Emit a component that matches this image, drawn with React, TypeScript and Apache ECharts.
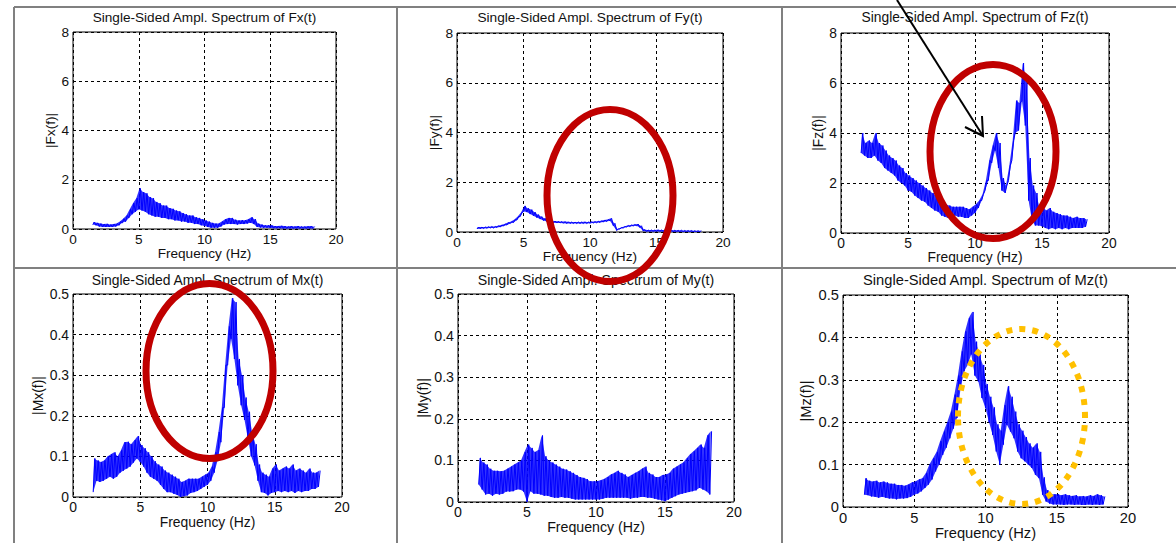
import React, { useEffect, useRef } from "react";
import * as echarts from "echarts";

// Frequency samples (Hz)
const FREQ = [
  1.5, 1.75,
  2, 2.25, 2.5, 2.75, 3, 3.25, 3.5, 3.75, 4, 4.25, 4.5, 4.75, 5, 5.25, 5.5, 5.75,
  6, 6.25, 6.5, 6.75, 7, 7.25, 7.5, 7.75, 8, 8.25, 8.5, 8.75, 9, 9.25, 9.5, 9.75,
  10, 10.25, 10.5, 10.75, 11, 11.25, 11.5, 11.75, 12, 12.25, 12.5, 12.75, 13, 13.25, 13.5, 13.75,
  14, 14.25, 14.5, 14.75, 15, 15.25, 15.5, 15.75, 16, 16.25, 16.5, 16.75, 17, 17.25, 17.5, 17.75,
  18, 18.25,
];

const X_TICKS = [0, 5, 10, 15, 20];
const NAMES = ["Fx", "Fy", "Fz", "Mx", "My", "Mz"];

// Upper / lower edges of the noisy spectra
const FX_HI = [0.28, 0.25,
  0.22, 0.2, 0.21, 0.18, 0.2, 0.22, 0.3, 0.42, 0.55, 0.8, 1.05, 1.25, 1.65, 1.5, 1.45, 1.3,
  1.25, 1.1, 1.05, 0.95, 0.95, 0.85, 0.82, 0.75, 0.72, 0.65, 0.6, 0.55, 0.55, 0.48, 0.45, 0.4,
  0.35, 0.3, 0.25, 0.22, 0.22, 0.3, 0.4, 0.45, 0.45, 0.38, 0.35, 0.36, 0.36, 0.4, 0.48, 0.4,
  0.22, 0.18, 0.15, 0.15, 0.15, 0.12, 0.12, 0.13, 0.12, 0.1, 0.12, 0.1, 0.12, 0.1, 0.1, 0.11,
  0.12, 0.1];
const FX_LO = [0.18, 0.15,
  0.1, 0.08, 0.08, 0.08, 0.08, 0.1, 0.15, 0.25, 0.3, 0.45, 0.6, 0.7, 0.8, 0.75, 0.7, 0.6,
  0.55, 0.5, 0.5, 0.45, 0.45, 0.4, 0.4, 0.35, 0.35, 0.3, 0.3, 0.25, 0.25, 0.2, 0.2, 0.15,
  0.12, 0.08, 0.05, 0.05, 0.05, 0.1, 0.18, 0.2, 0.2, 0.2, 0.18, 0.2, 0.2, 0.22, 0.25, 0.2,
  0.08, 0.06, 0.05, 0.05, 0.04, 0.03, 0.03, 0.03, 0.02, 0.02, 0.02, 0.02, 0.02, 0.02, 0.02, 0.02,
  0.02, 0.02];

const FY_HI = [0.2, 0.2,
  0.2, 0.21, 0.22, 0.22, 0.25, 0.28, 0.32, 0.38, 0.42, 0.5, 0.62, 0.78, 1.05, 0.95, 0.9, 0.8,
  0.7, 0.62, 0.55, 0.5, 0.46, 0.44, 0.43, 0.42, 0.42, 0.41, 0.4, 0.4, 0.4, 0.4, 0.41, 0.4,
  0.41, 0.42, 0.43, 0.45, 0.48, 0.5, 0.55, 0.35, 0.12, 0.18, 0.22, 0.26, 0.28, 0.3, 0.32, 0.25,
  0.1, 0.08, 0.08, 0.08, 0.09, 0.08, 0.08, 0.08, 0.08, 0.07, 0.07, 0.07, 0.06, 0.06, 0.06, 0.05,
  0.05, 0.05];
const FY_LO = [0.12, 0.13,
  0.14, 0.15, 0.16, 0.16, 0.18, 0.2, 0.24, 0.28, 0.34, 0.38, 0.48, 0.62, 0.82, 0.8, 0.72, 0.65,
  0.58, 0.52, 0.46, 0.42, 0.38, 0.37, 0.36, 0.36, 0.35, 0.34, 0.34, 0.34, 0.34, 0.34, 0.34, 0.34,
  0.35, 0.36, 0.37, 0.38, 0.4, 0.42, 0.45, 0.25, 0.06, 0.12, 0.16, 0.2, 0.22, 0.24, 0.25, 0.18,
  0.04, 0.02, 0.02, 0.02, 0.02, 0.02, 0.02, 0.02, 0.02, 0.01, 0.01, 0.01, 0.01, 0.01, 0.01, 0.01,
  0.01, 0.01];

const FZ_HI = [4.0, 3.6,
  3.7, 3.6, 4.0, 3.6, 3.5, 3.3, 3.1, 3.0, 2.9, 2.7, 2.6, 2.4, 2.3, 2.2, 2.1, 2.0,
  1.9, 1.8, 1.7, 1.6, 1.5, 1.4, 1.25, 1.15, 1.1, 1.05, 1.05, 1.05, 1.05, 1.0, 0.95, 1.05,
  1.15, 1.3, 1.55, 2.1, 2.9, 3.5, 4.0, 3.6, 2.2, 1.9, 2.7, 3.7, 5.3, 5.2, 6.8, 6.1,
  3.0, 1.9, 1.6, 1.0, 1.05, 0.9, 1.0, 0.85, 0.8, 0.75, 0.7, 0.7, 0.65, 0.6, 0.65, 0.6,
  0.6, 0.55];
const FZ_LO = [3.2, 3.1,
  3.0, 3.0, 3.1, 2.9, 2.8, 2.6, 2.5, 2.4, 2.3, 2.1, 2.0, 1.9, 1.7, 1.65, 1.5, 1.4,
  1.3, 1.25, 1.1, 1.0, 0.9, 0.85, 0.7, 0.65, 0.6, 0.65, 0.7, 0.65, 0.65, 0.6, 0.6, 0.7,
  0.8, 1.0, 1.3, 1.7, 2.1, 2.8, 3.3, 2.6, 1.7, 1.6, 2.1, 2.9, 4.0, 4.1, 5.3, 4.3,
  1.3, 0.5, 0.3, 0.3, 0.27, 0.2, 0.15, 0.2, 0.15, 0.2, 0.15, 0.2, 0.15, 0.2, 0.2, 0.2,
  0.2, 0.25];

const MX_HI = [0.095, 0.09,
  0.086, 0.09, 0.1, 0.105, 0.11, 0.1, 0.115, 0.135, 0.136, 0.13, 0.14, 0.15, 0.128, 0.12, 0.11, 0.1,
  0.088, 0.08, 0.075, 0.065, 0.06, 0.055, 0.05, 0.045, 0.037, 0.04, 0.045, 0.045, 0.045, 0.045, 0.05, 0.055,
  0.06, 0.075, 0.11, 0.16, 0.22, 0.325, 0.42, 0.49, 0.48, 0.34, 0.3, 0.245, 0.21, 0.16, 0.13, 0.08,
  0.06, 0.055, 0.05, 0.07, 0.08, 0.065, 0.07, 0.075, 0.07, 0.08, 0.065, 0.07, 0.065, 0.06, 0.07, 0.06,
  0.06, 0.065];
const MX_LO = [0.012, 0.04,
  0.037, 0.04, 0.045, 0.05, 0.045, 0.05, 0.06, 0.065, 0.07, 0.075, 0.085, 0.095, 0.086, 0.075, 0.06, 0.05,
  0.045, 0.04, 0.03, 0.02, 0.012, 0.012, 0.008, 0.005, 0, 0.002, 0.004, 0.01, 0.012, 0.015, 0.02, 0.025,
  0.03, 0.04, 0.06, 0.09, 0.135, 0.22, 0.325, 0.39, 0.34, 0.275, 0.226, 0.19, 0.144, 0.1, 0.078, 0.04,
  0.012, 0.01, 0.004, 0.01, 0.012, 0.015, 0.012, 0.015, 0.012, 0.015, 0.01, 0.015, 0.012, 0.015, 0.015, 0.02,
  0.02, 0.025];

const MY_HI = [0.106, 0.095,
  0.09, 0.08, 0.075, 0.075, 0.074, 0.075, 0.08, 0.085, 0.09, 0.095, 0.1, 0.12, 0.138, 0.13, 0.12, 0.125,
  0.16, 0.11, 0.1, 0.095, 0.09, 0.085, 0.08, 0.078, 0.074, 0.07, 0.065, 0.06, 0.058, 0.055, 0.05, 0.05,
  0.05, 0.052, 0.055, 0.06, 0.066, 0.07, 0.075, 0.07, 0.066, 0.06, 0.065, 0.07, 0.074, 0.08, 0.085, 0.07,
  0.066, 0.06, 0.06, 0.065, 0.066, 0.07, 0.08, 0.085, 0.09, 0.095, 0.105, 0.115, 0.122, 0.13, 0.138, 0.13,
  0.16, 0.17];
const MY_LO = [0.042, 0.03,
  0.018, 0.02, 0.015, 0.02, 0.018, 0.02, 0.025, 0.025, 0.026, 0.03, 0.03, 0.025, 0.0, 0.026, 0.02, 0.02,
  0.018, 0.015, 0.015, 0.012, 0.01, 0.01, 0.012, 0.01, 0.01, 0.008, 0.006, 0.006, 0.006, 0.006, 0.006, 0.006,
  0.006, 0.006, 0.008, 0.01, 0.01, 0.01, 0.01, 0.01, 0.01, 0.01, 0.008, 0.01, 0.01, 0.012, 0.012, 0.01,
  0.01, 0.008, 0.006, 0.004, 0.002, 0.006, 0.01, 0.014, 0.018, 0.02, 0.022, 0.024, 0.026, 0.028, 0.034, 0.03,
  0.026, 0.018];

const MZ_HI = [0.068, 0.062,
  0.06, 0.062, 0.058, 0.06, 0.058, 0.055, 0.055, 0.052, 0.052, 0.05, 0.053, 0.058, 0.06, 0.065, 0.068, 0.08,
  0.1, 0.115, 0.13, 0.155, 0.178, 0.2, 0.225, 0.265, 0.31, 0.367, 0.414, 0.445, 0.46, 0.39, 0.36, 0.335,
  0.29, 0.26, 0.235, 0.195, 0.18, 0.24, 0.285, 0.26, 0.225, 0.195, 0.18, 0.165, 0.15, 0.14, 0.15, 0.13,
  0.07, 0.04, 0.03, 0.03, 0.03, 0.028, 0.03, 0.028, 0.026, 0.028, 0.025, 0.026, 0.025, 0.028, 0.026, 0.03,
  0.028, 0.025];
const MZ_LO = [0.029, 0.028,
  0.025, 0.024, 0.022, 0.024, 0.022, 0.02, 0.02, 0.018, 0.02, 0.02, 0.021, 0.024, 0.029, 0.032, 0.037, 0.045,
  0.053, 0.065, 0.084, 0.1, 0.123, 0.14, 0.162, 0.185, 0.21, 0.28, 0.32, 0.335, 0.36, 0.31, 0.296, 0.257,
  0.233, 0.2, 0.17, 0.131, 0.1, 0.147, 0.194, 0.178, 0.162, 0.131, 0.115, 0.108, 0.1, 0.092, 0.076, 0.068,
  0.029, 0.013, 0.008, 0.006, 0.006, 0.006, 0.005, 0.006, 0.006, 0.005, 0.006, 0.005, 0.005, 0.006, 0.005, 0.006,
  0.005, 0.006];

const HI = [FX_HI, FY_HI, FZ_HI, MX_HI, MY_HI, MZ_HI];
const LO = [FX_LO, FY_LO, FZ_LO, MX_LO, MY_LO, MZ_LO];
const Y_MAX = [8, 8, 8, 0.5, 0.5, 0.5];
const Y_STEP = [2, 2, 2, 0.1, 0.1, 0.1];

// Layout (pixels)
const LAYOUT = [
  { left: 73, top: 32, width: 263, height: 197, fs: 13.6, titleY: 17, yGap: 14, xGap: 16 },
  { left: 457, top: 33, width: 266, height: 199, fs: 13.7, titleY: 17, yGap: 15, xGap: 15 },
  { left: 841, top: 33, width: 268, height: 200, fs: 13.8, titleY: 17, yGap: 16, xGap: 15 },
  { left: 73, top: 294, width: 269, height: 203, fs: 13.9, titleY: 280, yGap: 28, xGap: 16 },
  { left: 458, top: 294, width: 276, height: 208, fs: 14.2, titleY: 280, yGap: 28, xGap: 18 },
  { left: 843, top: 295, width: 285, height: 212, fs: 14.7, titleY: 280, yGap: 30, xGap: 16 },
];

const FONT = "'Liberation Sans', Arial, sans-serif";
const TXT = "#111";
const BLUE = "#0000ff";

export default function App() {
  const ref = useRef<HTMLDivElement>(null);

  useEffect(() => {
    if (!ref.current) return;
    const chart = echarts.init(ref.current, undefined, { renderer: "svg" });

    const grids = LAYOUT.map((l) => ({
      left: l.left,
      top: l.top,
      width: l.width,
      height: l.height,
      show: true,
      borderColor: "#000",
      borderWidth: 1,
      backgroundColor: "transparent",
    }));

    const split = { show: true, lineStyle: { type: [3, 3], color: "#000", width: 1 } };

    const xAxes = LAYOUT.map((l, i) => ({
      type: "value",
      gridIndex: i,
      min: X_TICKS[0],
      max: X_TICKS[X_TICKS.length - 1],
      interval: X_TICKS[1] - X_TICKS[0],
      name: "Frequency (Hz)",
      nameLocation: "middle",
      nameGap: l.xGap,
      nameTextStyle: { fontSize: l.fs, color: TXT, fontFamily: FONT },
      axisLine: { show: false },
      axisTick: { show: false },
      axisLabel: { margin: 3, fontSize: l.fs, color: TXT, fontFamily: FONT },
      splitLine: split,
    }));

    const yAxes = LAYOUT.map((l, i) => ({
      type: "value",
      gridIndex: i,
      min: 0,
      max: Y_MAX[i],
      interval: Y_STEP[i],
      name: `|${NAMES[i]}(f)|`,
      nameLocation: "middle",
      nameGap: l.yGap,
      nameTextStyle: { fontSize: l.fs, color: TXT, fontFamily: FONT },
      axisLine: { show: false },
      axisTick: { show: false },
      axisLabel: { margin: 4, fontSize: l.fs, color: TXT, fontFamily: FONT },
      splitLine: split,
    }));

    const series: any[] = [];
    LAYOUT.forEach((_, i) => {
      const hi = HI[i];
      const lo = LO[i];
      // noise band: filled polygon between lower and upper edges
      series.push({
        type: "custom",
        xAxisIndex: i,
        yAxisIndex: i,
        silent: true,
        z: 2,
        data: [[FREQ[0], lo[0]]],
        renderItem: (_p: any, api: any) => {
          const pts: number[][] = [];
          FREQ.forEach((f, k) => pts.push(api.coord([f + 0.0625, hi[k]])));
          for (let k = FREQ.length - 1; k >= 0; k--) pts.push(api.coord([FREQ[k], lo[k]]));
          return {
            type: "polygon",
            shape: { points: pts },
            style: { fill: BLUE, opacity: 0.8, stroke: "none" },
          };
        },
      });
      // jagged trace between the two edges
      const zig: number[][] = [];
      FREQ.forEach((f, k) => {
        zig.push([f, lo[k]]);
        zig.push([f + 0.125, hi[k]]);
      });
      series.push({
        type: "line",
        xAxisIndex: i,
        yAxisIndex: i,
        symbol: "none",
        showSymbol: false,
        silent: true,
        clip: true,
        z: 3,
        data: zig,
        lineStyle: { color: BLUE, width: 1 },
        itemStyle: { color: BLUE },
      });
    });

    const tableLine = { stroke: "#808080", lineWidth: 2 };
    const graphics: any[] = [
      { type: "line", shape: { x1: 14, y1: 7, x2: 1176, y2: 7 }, style: tableLine },
      { type: "line", shape: { x1: 14, y1: 268, x2: 1176, y2: 268 }, style: tableLine },
      { type: "line", shape: { x1: 14, y1: 7, x2: 14, y2: 543 }, style: tableLine },
      { type: "line", shape: { x1: 397, y1: 7, x2: 397, y2: 543 }, style: tableLine },
      { type: "line", shape: { x1: 782, y1: 7, x2: 782, y2: 543 }, style: tableLine },
    ];

    LAYOUT.forEach((l, i) => {
      graphics.push({
        type: "text",
        x: l.left + l.width / 2,
        y: l.titleY,
        style: {
          text: `Single-Sided Ampl. Spectrum of ${NAMES[i]}(t)`,
          fontSize: l.fs,
          fontFamily: FONT,
          fill: TXT,
          textAlign: "center",
          textVerticalAlign: "middle",
        },
      });
    });

    const red = { fill: "none", stroke: "#c00000", lineWidth: 7 };
    graphics.push(
      { type: "ellipse", z: 100, shape: { cx: 610, cy: 195.5, rx: 63, ry: 86 }, style: red },
      { type: "ellipse", z: 100, shape: { cx: 993, cy: 151.5, rx: 63, ry: 87 }, style: red },
      { type: "ellipse", z: 100, shape: { cx: 209.5, cy: 371, rx: 63.5, ry: 87.5 }, style: red },
      {
        type: "ellipse",
        z: 100,
        shape: { cx: 1021.5, cy: 416.5, rx: 63.5, ry: 87.5 },
        style: { fill: "none", stroke: "#ffc000", lineWidth: 6, lineDash: [6, 7] },
      },
      {
        type: "line",
        z: 100,
        shape: { x1: 897, y1: 0, x2: 983, y2: 136 },
        style: { stroke: "#000", lineWidth: 2 },
      },
      {
        type: "polyline",
        z: 100,
        shape: { points: [[965, 127], [983, 136], [982, 116]] },
        style: { fill: "none", stroke: "#000", lineWidth: 2 },
      }
    );

    chart.setOption({
      animation: false,
      backgroundColor: "#fff",
      grid: grids,
      xAxis: xAxes,
      yAxis: yAxes,
      series,
      graphic: { elements: graphics },
    });

    return () => chart.dispose();
  }, []);

  return (
    <div
      ref={ref}
      style={{ position: "absolute", left: 0, top: 0, width: 1176, height: 543 }}
    />
  );
}
